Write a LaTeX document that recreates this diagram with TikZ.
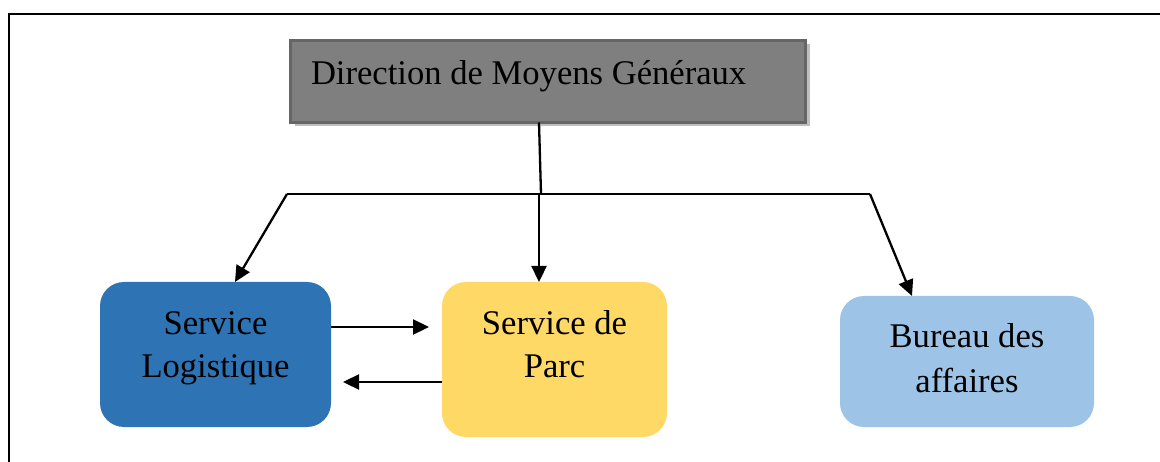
\documentclass[tikz,border=0pt]{standalone}
\usepackage{fontspec}
\setmainfont{Liberation Serif}
\usetikzlibrary{arrows.meta,calc,shadows}

\definecolor{dirfill}{HTML}{7F7F7F}
\definecolor{dirline}{HTML}{666666}
\definecolor{dirshadow}{HTML}{BFBFBF}
\definecolor{logblue}{HTML}{2E74B5}
\definecolor{parcyellow}{HTML}{FFD966}
\definecolor{bureaublue}{HTML}{9DC3E6}

\tikzset{
  unitbox/.style={rectangle, rounded corners=24pt, inner sep=0pt, outer sep=0pt},
  dirbox/.style={rectangle, fill=dirfill, draw=dirline, line width=3pt,
    inner sep=0pt, outer sep=0pt,
    drop shadow={shadow xshift=4pt, shadow yshift=-4pt, fill=dirshadow, opacity=1}},
  lbl/.style={inner sep=0pt, outer sep=0pt, font=\fontsize{34.6}{40}\selectfont, text=black},
  link/.style={draw=black, line width=2.3pt},
  arr/.style={link, -{Triangle[length=16pt,width=15pt]}},
  frameline/.style={draw=black, line width=2pt}
}

\begin{document}
\begin{tikzpicture}[x=1pt, y=-1pt]
  \useasboundingbox (0,0) rectangle (1160,462);
  \clip (0,0) rectangle (1160,462);

  % outer frame (open towards the right and bottom)
  \draw[frameline] (9.3,480) -- (9.3,14.3) -- (1180,14.3);

  % head office
  \node[dirbox, minimum width=515pt, minimum height=82pt] (dir) at (548,81.5) {};
  \node[lbl, anchor=base west] (dirtxt) at (311,85) {Direction de Moyens Généraux};

  % services
  \node[unitbox, fill=logblue, minimum width=231pt, minimum height=145pt] (sl) at (215.5,354.5) {};
  \node[lbl, anchor=base] (sl1) at (215.5,335) {Service};
  \node[lbl, anchor=base] (sl2) at (215.5,378) {Logistique};

  \node[unitbox, fill=parcyellow, minimum width=225pt, minimum height=155pt] (sp) at (554.5,359.5) {};
  \node[lbl, anchor=base] (sp1) at (554.5,335) {Service de};
  \node[lbl, anchor=base] (sp2) at (554.5,378) {Parc};

  \node[unitbox, fill=bureaublue, minimum width=254pt, minimum height=131pt] (bu) at (967,361.5) {};
  \node[lbl, anchor=base] (bu1) at (967,348) {Bureau des};
  \node[lbl, anchor=base] (bu2) at (967,392) {affaires};

  % distribution bar
  \coordinate (jl) at (287,194);
  \coordinate (jr) at (870,194);
  \coordinate (jm) at (541,194);
  \coordinate (jd) at (539,194);

  \draw[link] ([xshift=-9pt]dir.south) -- (jm);
  \draw[link] (jl) -- (jr);
  \draw[arr] (jl) -- ([xshift=19.5pt]sl.north);
  \draw[arr] (jd) -- ([xshift=-15.5pt]sp.north);
  \draw[arr] (jr) -- ([xshift=-55pt]bu.north);

  % exchanges between the two services
  \draw[arr] ($(sl.east)+(0,-27.5)$) -- ($(sp.west)+(-13,-32.5)$);
  \draw[arr] ($(sp.west)+(0,22.5)$) -- ($(sl.east)+(12,27.5)$);
\end{tikzpicture}
\end{document}
